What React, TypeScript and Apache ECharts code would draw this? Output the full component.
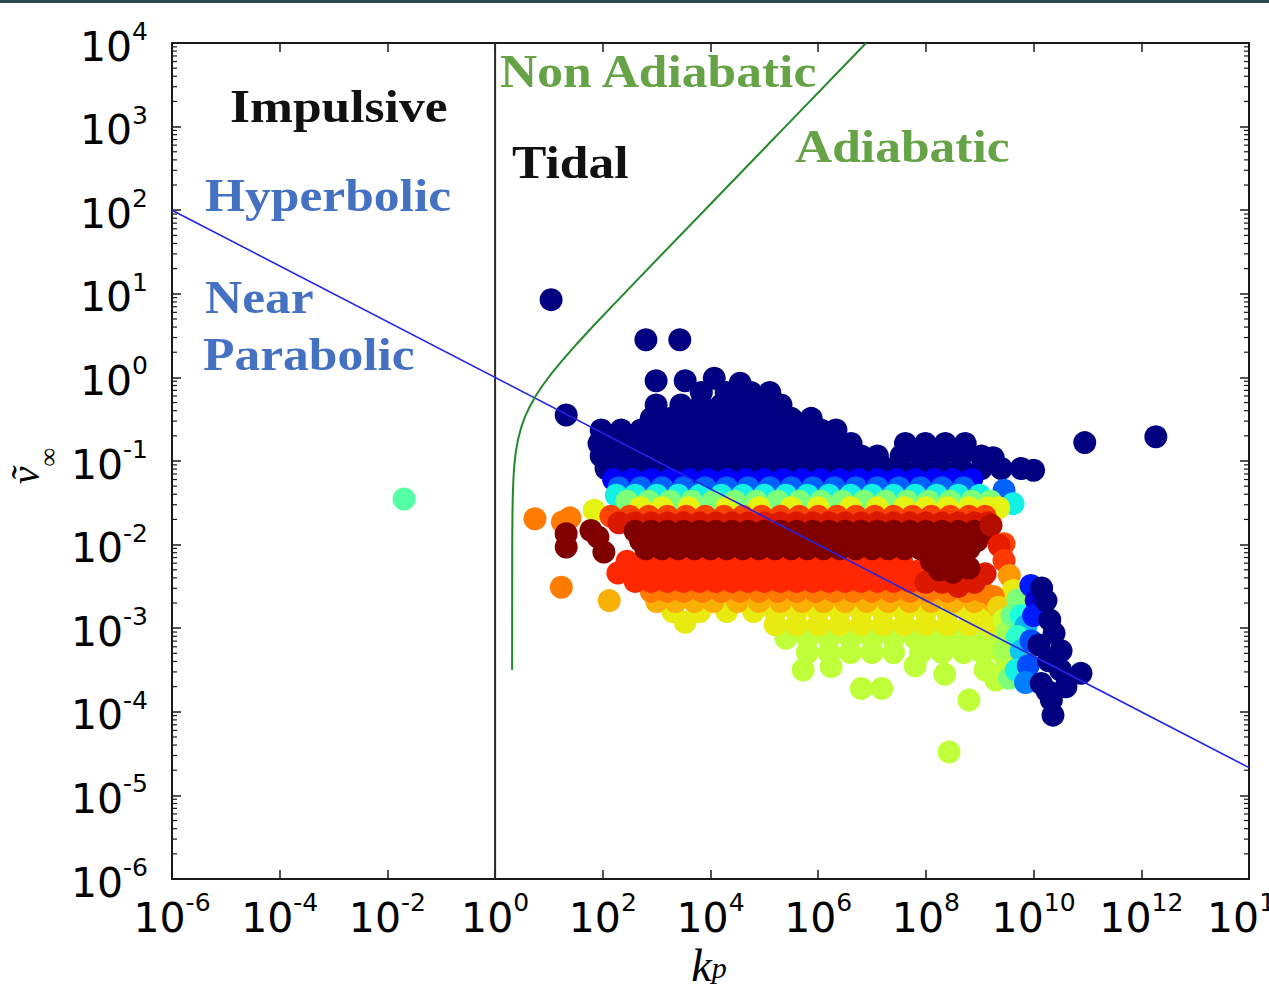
import { useEffect, useRef } from 'react';
import * as echarts from 'echarts';

// Axis ranges (k_p horizontally, v_inf vertically), both logarithmic
const K_MIN = 1e-6;
const K_MAX = 1e14;
const V_MIN = 1e-6;
const V_MAX = 1e4;
const Y_DECADES = [-6, -5, -4, -3, -2, -1, 0, 1, 2, 3];
const MINOR_MULTIPLES = [2, 3, 4, 5, 6, 7, 8, 9];

// Jet colour map used for the third quantity carried by every point
const JET = ['#000080', '#0000ff', '#0080ff', '#17ffe0', '#7dff7a', '#e2ff14', '#ff9700', '#ff2200', '#800000'];

type Row = [number, number[]]; // [log10 v, log10 k of each point on the row]
type Pt = [number, number]; // [log10 k, log10 v]
type CPt = [number, number, number]; // [log10 k, log10 v, colour value]

// ---- Encounter data (log10 k_p, log10 v_inf) grouped by colour value ----
const navyRows: Row[] = [
  [-0.18, [3.83, 4.29, 4.75, 5.1]],
  [-0.33, [2.99, 3.45, 3.83, 4.2, 4.57, 4.94, 5.31]],
  [-0.49, [2.9, 3.27, 3.64, 4.01, 4.38, 4.75, 5.12, 5.5, 5.87]],
  [-0.63, [1.97, 2.34, 2.71, 3.08, 3.45, 3.83, 4.2, 4.57, 4.94, 5.31, 5.68, 6.05, 6.33]],
  [-0.79, [1.93, 2.25, 2.62, 2.99, 3.36, 3.73, 4.1, 4.48, 4.85, 5.22, 5.59, 5.96, 6.33, 6.61, 7.62, 7.99, 8.36, 8.73]],
  [-0.94, [1.97, 2.34, 2.71, 3.08, 3.45, 3.83, 4.2, 4.57, 4.94, 5.31, 5.68, 6.05, 6.43, 6.8, 7.1, 7.54, 7.91, 8.28, 8.65, 9.03]],
  [-1.09, [2.06, 2.43, 2.8, 3.17, 3.55, 3.92, 4.29, 4.66, 5.03, 5.4, 5.78, 6.15, 6.52, 6.89, 7.26, 7.54, 7.91, 8.28, 8.65, 9.03, 9.4, 9.77]],
];
const navyPts: Pt[] = [
  [1.04, 0.93], [2.8, 0.45], [3.43, 0.45], [2.99, -0.04], [3.53, -0.04], [4.07, -0.01], [4.55, -0.07],
  [1.32, -0.45], [10.95, -0.78], [12.27, -0.71], [9.25, -0.96], [10.0, -1.11],
];
const blueRows: Row[] = [
  [-1.22, [2.2, 2.55, 2.9, 3.25, 3.6, 3.95, 4.3, 4.65, 5.0, 5.35, 5.7, 6.05, 6.4, 6.75, 7.1, 7.45, 7.8, 8.15, 8.5, 8.85]],
];
const midBlueRows: Row[] = [
  [-1.32, [2.3, 2.7, 3.1, 3.5, 3.9, 4.3, 4.7, 5.1, 5.5, 5.9, 6.3, 6.7, 7.1, 7.5, 7.9, 8.3, 8.7]],
  [-1.35, [9.45]],
];
const cyanRows: Row[] = [
  [-1.41, [2.25, 2.6, 3.0, 3.4, 3.8, 4.2, 4.6, 5.0, 5.4, 5.8, 6.2, 6.6, 7.0, 7.4, 7.8, 8.2, 8.6, 9.0]],
  [-1.51, [9.62]],
];
const greenRows: Row[] = [
  [-1.48, [2.45, 2.85, 3.25, 3.65, 4.05, 4.45, 4.85, 5.25, 5.65, 6.05, 6.45, 6.85, 7.25, 7.65, 8.05, 8.45, 8.85, 9.2]],
];
const yellowTopRows: Row[] = [
  [-1.56, [2.7, 3.1, 3.6, 4.3, 4.9, 5.5, 6.0, 6.6, 7.1, 7.6, 8.0, 8.4, 8.8, 9.15, 9.35]],
  [-1.59, [1.84]],
];
const yellowGreenRows: Row[] = [
  [-3.12, [5.4, 5.8, 6.2, 6.6, 7.0, 7.4, 7.8, 8.2, 8.6, 9.0, 9.35]],
  [-3.29, [5.8, 6.2, 6.6, 7.0, 7.4, 7.9, 8.3, 8.7, 9.05, 9.4]],
];
const yellowGreenPts: Pt[] = [
  [5.72, -3.5], [6.24, -3.46], [6.8, -3.72], [7.18, -3.72], [8.8, -3.86], [9.3, -3.62],
  [8.43, -4.48], [7.8, -3.45], [8.35, -3.55], [9.5, -3.45], [9.1, -3.5],
];
const yellowRows: Row[] = [
  [-2.96, [5.2, 5.6, 6.0, 6.4, 6.8, 7.2, 7.6, 8.0, 8.4, 8.8, 9.2]],
  [-2.8, [3.3, 3.8, 4.3, 4.8, 5.2, 5.6, 6.0, 6.4, 6.8, 7.2, 7.6, 8.0, 8.4, 8.8, 9.15, 9.4]],
  [-2.93, [3.53]],
];
const yellowOrangeRows: Row[] = [
  [-2.68, [3.0, 3.35, 3.7, 4.05, 4.5, 4.9, 5.3, 5.7, 6.1, 6.5, 6.9, 7.3, 7.7, 8.1, 8.5, 8.9, 9.25]],
  [-2.67, [2.12]],
];
const orangeRows: Row[] = [
  [-2.56, [2.9, 3.2, 3.5, 3.85, 4.2, 4.55, 4.9, 5.25, 5.6, 5.95, 6.3, 6.65, 7.0, 7.35, 7.7, 8.05, 8.4, 8.75, 9.05]],
  [-2.51, [1.23]],
  [-1.69, [0.74]],
  [-1.68, [1.39]],
  [-1.73, [1.25]],
];
const redOrangeRows: Row[] = [
  [-2.44, [2.6, 2.9, 3.2, 3.5, 3.8, 4.1, 4.4, 4.7, 5.0, 5.3, 5.6, 5.9, 6.2, 6.5, 6.8, 7.1, 7.4, 7.7, 7.95]],
  [-2.32, [2.5, 2.8, 3.1, 3.4, 3.7, 4.0, 4.3, 4.6, 4.9, 5.2, 5.5, 5.8, 6.1, 6.4, 6.7, 7.0, 7.3, 7.6, 7.85]],
  [-2.2, [2.45, 2.75, 3.05, 3.35, 3.65, 3.95, 4.25, 4.55, 4.85, 5.15, 5.45, 5.75, 6.05, 6.35, 6.65, 6.95, 7.25, 7.55]],
  [-2.34, [2.28]],
];
const orangeRedRows: Row[] = [
  [-1.66, [2.15, 2.5, 2.85, 3.2, 3.55, 3.9, 4.25, 4.6, 4.95, 5.3, 5.65, 6.0, 6.35, 6.7, 7.05, 7.4, 7.75, 8.1, 8.45, 8.8, 9.1]],
  [-1.99, [9.45]],
];
const redRows: Row[] = [
  [-1.74, [2.3, 2.6, 2.9, 3.2, 3.5, 3.8, 4.1, 4.4, 4.7, 5.0, 5.3, 5.6, 5.9, 6.2, 6.5, 6.8, 7.1, 7.4, 7.7, 8.0, 8.3, 8.6, 8.9, 9.15]],
];
const redPts: Pt[] = [[8.0, -2.45], [8.3, -2.45], [8.6, -2.5], [8.9, -2.45], [9.1, -2.35]];
const darkRedRows: Row[] = [
  [-1.84, [2.6, 2.9, 3.2, 3.5, 3.8, 4.1, 4.4, 4.7, 5.0, 5.3, 5.6, 5.9, 6.2, 6.5, 6.8, 7.1, 7.4, 7.7, 8.0, 8.3, 8.6, 8.9, 9.1]],
  [-1.95, [2.7, 3.0, 3.3, 3.6, 3.9, 4.2, 4.5, 4.8, 5.1, 5.4, 5.7, 6.0, 6.3, 6.6, 6.9, 7.2, 7.5, 7.8, 8.1, 8.4, 8.7, 8.95]],
  [-2.05, [2.8, 3.1, 3.4, 3.7, 4.0, 4.3, 4.6, 4.9, 5.2, 5.5, 5.8, 6.1, 6.4, 6.7, 7.0, 7.3, 7.6, 7.9, 8.2, 8.5, 8.8]],
];
const darkRedPts: Pt[] = [
  [1.32, -1.87], [1.32, -2.03], [1.91, -1.91], [2.02, -2.09], [1.78, -1.83],
  [8.1, -2.2], [8.4, -2.14], [8.65, -2.2], [8.25, -2.3], [8.5, -2.33], [8.8, -2.28],
];
// Right-hand edge of the cloud, where the colour runs from red down to navy
const sweepPts: CPt[] = [
  [9.21, -1.77, 0.95], [9.36, -2.01, 0.9], [9.45, -2.19, 0.85], [9.55, -2.37, 0.75], [9.62, -2.55, 0.65],
  [9.25, -2.62, 0.78], [9.35, -2.75, 0.68], [9.45, -2.9, 0.6], [9.5, -3.05, 0.55], [9.45, -3.25, 0.55],
  [9.55, -3.6, 0.5], [9.71, -2.66, 0.5], [9.6, -2.85, 0.48], [9.77, -2.85, 0.38], [9.86, -2.97, 0.3],
  [9.7, -3.1, 0.4], [9.77, -3.27, 0.32], [9.68, -3.5, 0.36], [9.95, -2.49, 0.15], [10.05, -2.67, 0.08],
  [9.95, -3.15, 0.2], [10.0, -2.85, 0.15], [9.9, -3.45, 0.2], [9.85, -3.65, 0.25],
];
const navyTailPts: Pt[] = [
  [10.23, -2.67], [10.38, -3.06], [10.51, -3.27], [10.14, -3.66], [10.33, -3.86], [10.36, -4.04],
  [10.88, -3.54], [10.28, -3.39], [10.15, -2.52], [10.3, -2.9], [10.5, -3.5], [10.25, -3.75],
  [10.1, -3.2], [10.6, -3.7],
];
const lonePts: CPt[] = [[-1.69, -1.455, 0.45]];

// ---- Boundary curves ----
// impulsive / tidal boundary at k_p = 1
const tidalBoundary: [number, number][] = [[1, V_MIN], [1, V_MAX]];
// hyperbolic / near-parabolic boundary (log-log straight line)
const parabolicBoundary: [number, number][] = [[1e-6, 1e2], [1e14, 2.15e-5]];
// adiabatic / non-adiabatic boundary, points as log10 k, log10 v
const adiabaticBoundary: Pt[] = [
  [0.316, -3.5], [0.3176, -2.0], [0.323, -1.6], [0.329, -1.4], [0.341, -1.2], [0.357, -1.05],
  [0.383, -0.9], [0.4234, -0.75], [0.484, -0.6], [0.556, -0.47], [0.642, -0.35], [0.756, -0.22],
  [0.878, -0.1], [1.053, 0.05], [1.245, 0.2], [1.517, 0.4], [1.8, 0.6], [2.245, 0.9], [2.69, 1.2],
  [3.89, 2.0], [5.39, 3.0], [6.89, 4.0],
];

// drawing order: upper bands, lower bands from the bottom up, dark red on top
const bands: [number, Row[], Pt[]][] = [
  [0.0, navyRows, navyPts],
  [0.12, blueRows, []],
  [0.22, midBlueRows, []],
  [0.36, cyanRows, []],
  [0.5, greenRows, []],
  [0.64, yellowTopRows, []],
  [0.58, yellowGreenRows, yellowGreenPts],
  [0.65, yellowRows, []],
  [0.72, yellowOrangeRows, []],
  [0.78, orangeRows, []],
  [0.87, redOrangeRows, []],
  [0.84, orangeRedRows, []],
  [0.91, redRows, redPts],
  [1.0, darkRedRows, darkRedPts],
];

function buildScatter(): number[][] {
  const out: number[][] = [];
  const push = (lk: number, lv: number, c: number) => out.push([Math.pow(10, lk), Math.pow(10, lv), c]);
  for (const [lk, lv, c] of lonePts) push(lk, lv, c);
  for (const [c, rows, pts] of bands) {
    for (const [lv, ks] of rows) for (const lk of ks) push(lk, lv, c);
    for (const [lk, lv] of pts) push(lk, lv, c);
  }
  for (const [lk, lv, c] of sweepPts) push(lk, lv, c);
  for (const [lk, lv] of navyTailPts) push(lk, lv, 0);
  return out;
}

const minorYTicks: number[][] = [];
for (const d of Y_DECADES) for (const m of MINOR_MULTIPLES) minorYTicks.push([K_MIN, m * Math.pow(10, d)]);

const TICK_FONT = '"DejaVu Sans", sans-serif';
const SERIF = '"Liberation Serif", "DejaVu Serif", serif';

const powLabel = (v: number) => `{b|10}{e|${Math.round(Math.log10(v))}}`;
const labelRich = {
  b: { fontSize: 41, fontFamily: TICK_FONT, color: '#000', lineHeight: 48, verticalAlign: 'bottom' },
  e: { fontSize: 25, fontFamily: TICK_FONT, color: '#000', lineHeight: 16, verticalAlign: 'top' },
};

const AXIS_COLOR = '#1a1a1a';
const baseAxis = {
  type: 'log' as const,
  logBase: 10,
  axisLine: { show: true, onZero: false, lineStyle: { color: AXIS_COLOR, width: 2 } },
  axisTick: { show: true, inside: true, length: 9, lineStyle: { color: AXIS_COLOR, width: 1.5 } },
  splitLine: { show: false },
  minorTick: { show: false },
};

function annot(text: string, x: number, y: number, fill: string) {
  return {
    type: 'text',
    x,
    y,
    scaleX: 1.12,
    z: 10,
    style: {
      text,
      fill,
      fontSize: 46,
      fontWeight: 'bold',
      fontFamily: SERIF,
      align: 'left',
      verticalAlign: 'middle',
    },
  };
}

// axis title made of a main glyph and a lowered subscript
function axisTitle(main: string, sub: string, x: number, y: number, mainSize: number, subSize: number,
  mainLH: number, subLH: number, rotation: number) {
  const rs = (size: number, lh: number, va: string) => ({
    fontSize: size, lineHeight: lh, verticalAlign: va, fontStyle: 'italic', fontFamily: SERIF, fill: '#000', color: '#000',
  });
  return {
    type: 'text',
    x,
    y,
    rotation,
    z: 10,
    style: {
      text: `{m|${main}}{s|${sub}}`,
      fill: '#000',
      align: 'center',
      verticalAlign: 'middle',
      rich: { m: rs(mainSize, mainLH, 'top'), s: rs(subSize, subLH, 'bottom') },
    },
  };
}

const BLACK_TEXT = '#111111';
const BLUE_TEXT = '#4571c2';
const GREEN_TEXT = '#66a346';

export default function App() {
  const ref = useRef<HTMLDivElement>(null);

  useEffect(() => {
    if (!ref.current) return;
    const chart = echarts.init(ref.current, null, { renderer: 'svg' });
    const option = {
      animation: false,
      backgroundColor: '#ffffff',
      grid: { left: 172, top: 43, width: 1077, height: 836, containLabel: false, outerBoundsMode: 'none' },
      xAxis: [
        {
          ...baseAxis,
          position: 'bottom',
          min: K_MIN,
          max: K_MAX,
          interval: 2,
          splitNumber: 10,
          axisLabel: {
            show: true,
            margin: 11,
            showMinLabel: true,
            showMaxLabel: true,
            formatter: powLabel,
            rich: labelRich,
          },
        },
        {
          ...baseAxis,
          position: 'top',
          min: K_MIN,
          max: K_MAX,
          interval: 2,
          splitNumber: 10,
          axisLabel: { show: false },
        },
      ],
      yAxis: [
        {
          ...baseAxis,
          position: 'left',
          min: V_MIN,
          max: V_MAX,
          interval: 1,
          splitNumber: 10,
          axisLabel: {
            show: true,
            margin: 24,
            showMinLabel: true,
            showMaxLabel: true,
            formatter: powLabel,
            rich: labelRich,
          },
        },
        {
          ...baseAxis,
          position: 'right',
          min: V_MIN,
          max: V_MAX,
          interval: 1,
          splitNumber: 10,
          axisLabel: { show: false },
        },
      ],
      visualMap: {
        type: 'continuous',
        show: false,
        min: 0,
        max: 1,
        dimension: 2,
        seriesIndex: 0,
        inRange: { color: JET },
      },
      series: [
        {
          type: 'scatter',
          xAxisIndex: 0,
          yAxisIndex: 0,
          symbol: 'circle',
          symbolSize: 23,
          data: buildScatter(),
          itemStyle: { opacity: 1 },
          silent: true,
          z: 2,
        },
        {
          type: 'line',
          data: tidalBoundary,
          showSymbol: false,
          symbol: 'none',
          lineStyle: { color: '#2a2a2a', width: 2 },
          silent: true,
          z: 4,
        },
        {
          type: 'line',
          data: parabolicBoundary,
          showSymbol: false,
          symbol: 'none',
          lineStyle: { color: '#2424e6', width: 1.6 },
          silent: true,
          z: 5,
        },
        {
          type: 'line',
          data: adiabaticBoundary.map(([lk, lv]) => [Math.pow(10, lk), Math.pow(10, lv)]),
          showSymbol: false,
          symbol: 'none',
          lineStyle: { color: '#23882a', width: 2 },
          silent: true,
          z: 5,
        },
        {
          // log-spaced minor ticks on the left and right spines
          type: 'custom',
          data: minorYTicks,
          silent: true,
          clip: false,
          z: 6,
          renderItem: (_params: any, api: any) => {
            const v = api.value(1);
            const l = api.coord([K_MIN, v]);
            const r = api.coord([K_MAX, v]);
            const st = { stroke: AXIS_COLOR, lineWidth: 1.2 };
            return {
              type: 'group',
              children: [
                { type: 'line', shape: { x1: l[0], y1: l[1], x2: l[0] + 5, y2: l[1] }, style: st },
                { type: 'line', shape: { x1: r[0] - 5, y1: r[1], x2: r[0], y2: r[1] }, style: st },
              ],
            };
          },
        },
      ],
      graphic: [
        { type: 'rect', left: 0, top: 0, shape: { x: 0, y: 0, width: 1269, height: 3 }, style: { fill: '#2c4a52' }, z: 20 },
        annot('Impulsive', 230, 106, BLACK_TEXT),
        annot('Hyperbolic', 205, 195, BLUE_TEXT),
        annot('Near', 205, 297, BLUE_TEXT),
        annot('Parabolic', 203, 354, BLUE_TEXT),
        annot('Non Adiabatic', 500, 71, GREEN_TEXT),
        annot('Tidal', 512, 162, BLACK_TEXT),
        annot('Adiabatic', 795, 146, GREEN_TEXT),
        axisTitle('k', 'p', 709, 962, 46, 30, 40, 8, 0),
        axisTitle('\u1e7d', '\u221e', 33, 466, 40, 26, 10, 56, Math.PI / 2),
      ],
    };
    chart.setOption(option as any);
    return () => chart.dispose();
  }, []);

  return (
    <div
      ref={ref}
      style={{ position: 'fixed', left: 0, top: 0, width: 1269, height: 999, background: '#ffffff' }}
    />
  );
}
